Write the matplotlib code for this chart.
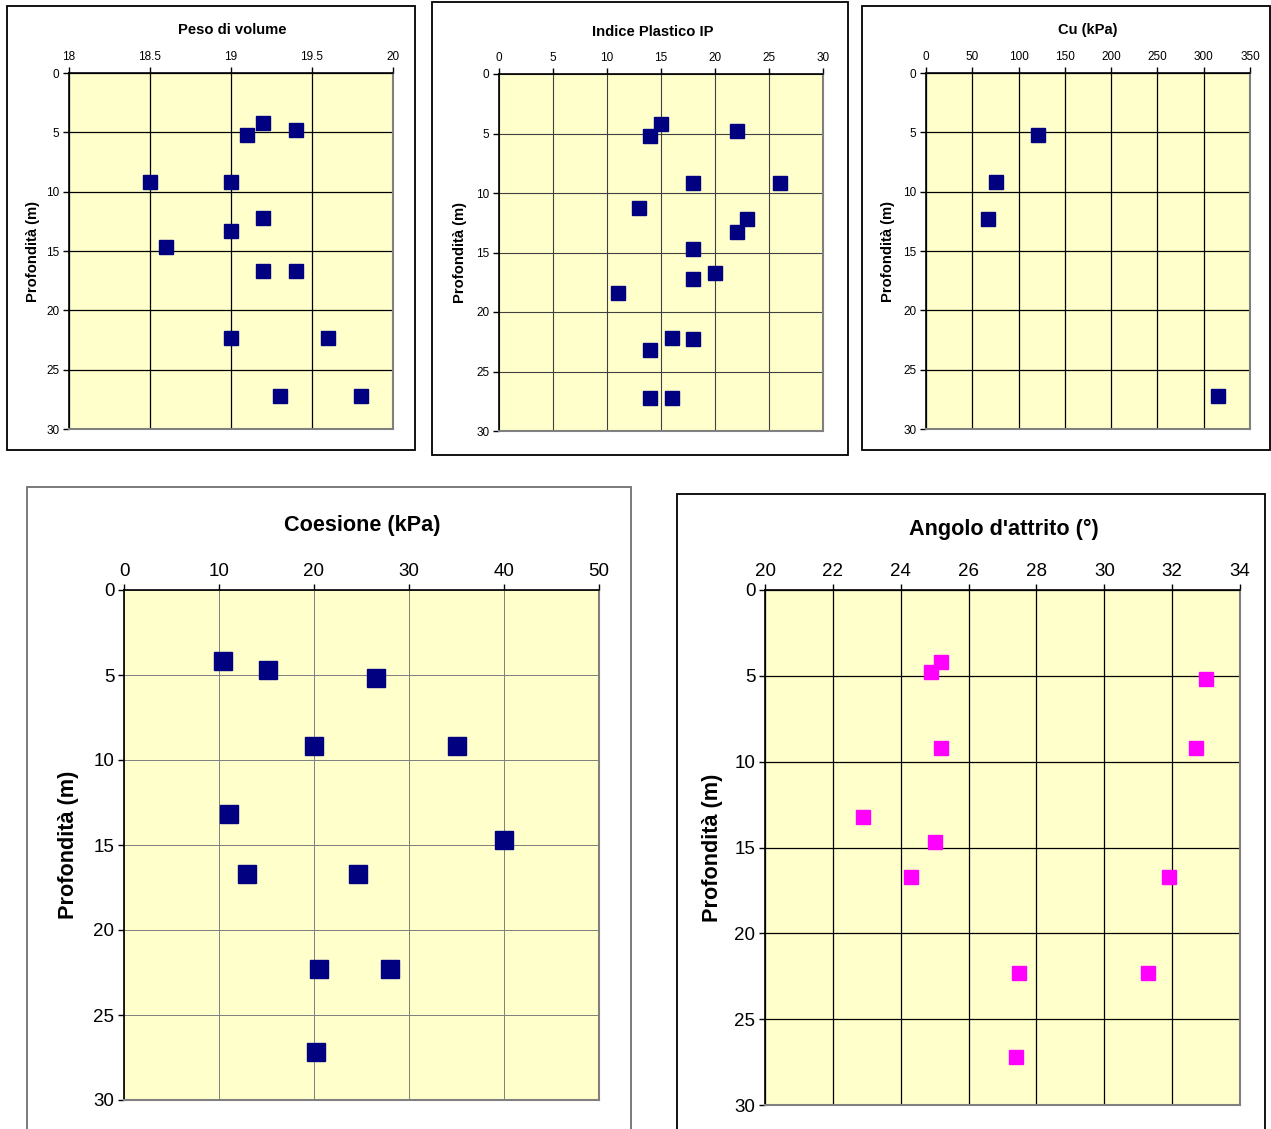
import matplotlib
matplotlib.use("Agg")
import matplotlib.pyplot as plt
from matplotlib.patches import Rectangle

plt.rcParams['font.family'] = ['Liberation Sans', 'DejaVu Sans']

W, H = 1271, 1129

# dati di laboratorio (profondità in m)
peso_depth = [4.2, 5.2, 4.8, 9.2, 9.2, 12.2, 13.3, 14.7, 16.7, 16.7, 22.3, 22.3, 27.2, 27.2]
peso = [19.2, 19.1, 19.4, 18.5, 19.0, 19.2, 19.0, 18.6, 19.2, 19.4, 19.0, 19.6, 19.3, 19.8]

ip_depth = [4.2, 5.2, 4.8, 9.2, 9.2, 11.3, 12.2, 13.3, 14.7, 16.7, 17.2, 18.4, 22.2, 22.3, 23.2, 27.2, 27.2]
ip = [15, 14, 22, 18, 26, 13, 23, 22, 18, 20, 18, 11, 16, 18, 14, 14, 16]

cu_depth = [5.2, 9.2, 12.3, 27.2]
cu = [121, 76, 67, 315]

coes_depth = [4.2, 4.7, 5.2, 9.2, 9.2, 13.2, 14.7, 16.7, 16.7, 22.3, 22.3, 27.2]
coes = [10.4, 15.2, 26.5, 20.0, 35.1, 11.0, 40.0, 12.9, 24.6, 20.5, 28.0, 20.2]

phi_depth = [4.2, 4.8, 5.2, 9.2, 9.2, 13.2, 14.7, 16.7, 16.7, 22.3, 22.3, 27.2]
phi = [25.2, 24.9, 33.0, 25.2, 32.7, 22.9, 25.0, 24.3, 31.9, 27.5, 31.3, 27.4]

peso_ticks = [18, 18.5, 19, 19.5, 20]
peso_labels = ['18', '18.5', '19', '19.5', '20']
depth_ticks = [0, 5, 10, 15, 20, 25, 30]

fig = plt.figure(figsize=(W / 100, H / 100), dpi=100)


def box(x0, y0, x1, y1, color='black'):
    fig.patches.append(Rectangle((x0 / W, 1 - y1 / H), (x1 - x0) / W, (y1 - y0) / H,
                                 transform=fig.transFigure, fill=False,
                                 edgecolor=color, lw=1.3))


def panel(x0, y0, x1, y1, x, y, xlim, xticks, title, title_xy, color, ms,
          fs_tick, fs_title, grid_color, grid_lw, label_x, xlabels=None):
    ax = fig.add_axes([x0 / W, 1 - y1 / H, (x1 - x0) / W, (y1 - y0) / H])
    ax.set_facecolor('#FFFFCC')
    ax.plot(x, y, 's', ls='none', color=color, mec=color, ms=ms, zorder=3)
    ax.set_xlim(*xlim)
    ax.set_ylim(30, 0)
    ax.set_xticks(xticks)
    if xlabels is not None:
        ax.set_xticklabels(xlabels)
    ax.set_yticks(depth_ticks)
    ax.xaxis.tick_top()
    ax.tick_params(axis='both', direction='out', length=4, width=1,
                   labelsize=fs_tick, color='black', pad=3)
    ax.grid(True, color=grid_color, lw=grid_lw, zorder=1)
    ax.set_axisbelow(True)
    for s in ('top', 'left'):
        ax.spines[s].set_color('black')
        ax.spines[s].set_linewidth(1.2)
    for s in ('bottom', 'right'):
        ax.spines[s].set_color('#808080')
        ax.spines[s].set_linewidth(1.5)
    ax.set_ylabel('Profondità (m)', fontsize=fs_title, fontweight='bold')
    ax.yaxis.set_label_coords(label_x, 0.5)
    fig.text(title_xy[0] / W, 1 - title_xy[1] / H, title, ha='center', va='center',
             fontsize=fs_title, fontweight='bold')
    return ax


# riquadri dei grafici
box(7, 6, 415, 450)
box(432, 2, 848, 455)
box(862, 6, 1270, 450)
box(27, 487, 631, 1140, color='#707070')
box(677, 494, 1265, 1140)

panel(69, 73, 393, 429, peso, peso_depth, (18, 20), peso_ticks, 'Peso di volume',
      (232, 30), '#000080', 9.5, 8.5, 10.6, 'black', 0.9, -0.090, peso_labels)
panel(499, 74, 823, 431, ip, ip_depth, (0, 30), range(0, 31, 5), 'Indice Plastico IP',
      (653, 32), '#000080', 9.5, 8.5, 10.6, '#404040', 0.8, -0.100)
panel(926, 73, 1250, 429, cu, cu_depth, (0, 350), range(0, 351, 50), 'Cu (kPa)',
      (1088, 30), '#000080', 9.5, 8.5, 10.6, 'black', 0.9, -0.095)
panel(124, 590, 599, 1100, coes, coes_depth, (0, 50), range(0, 51, 10), 'Coesione (kPa)',
      (362, 525), '#000080', 13.5, 13.5, 15.6, '#7F7F7F', 0.7, -0.095)
panel(765, 590, 1240, 1105, phi, phi_depth, (20, 34), range(20, 35, 2), "Angolo d'attrito (°)",
      (1004, 529), '#FF00FF', 10.5, 13.5, 15.6, 'black', 0.9, -0.089)

fig.savefig('out.png', dpi=100, facecolor='white')
